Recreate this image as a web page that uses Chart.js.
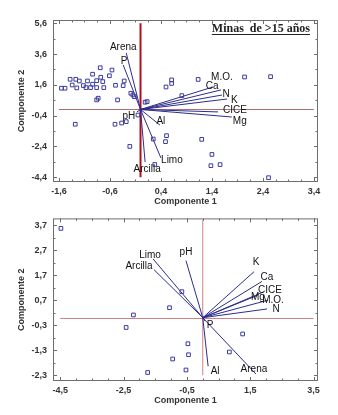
<!DOCTYPE html>
<html>
<head>
<meta charset="utf-8">
<script src="https://cdn.jsdelivr.net/npm/chart.js@4.4.1/dist/chart.umd.min.js"></script>
<style>
  body { margin: 0; background: #fff; width: 338px; height: 415px; position: relative; overflow: hidden; }
  canvas { position: absolute; left: 0; }
  #c15 { top: 0; }
  #c30 { top: 207px; }
</style>
</head>
<body>
<canvas id="c15" width="338" height="207"></canvas>
<canvas id="c30" width="338" height="208"></canvas>
<script>
// --- Minas de >15 años ---
const obs15X = [-1.55, -1.48, -1.38, -1.27, -1.34, -1.25, -1.20, -1.12, -1.04, -1.07, -0.98, -0.94, -0.94, -0.86,
  -0.79, -0.78, -0.74, -0.72, -0.86, -0.61, -0.56, -0.49, -0.34, -0.32, -0.86, -0.83, -0.45, -0.19, -0.15, -0.12,
  0.09, 0.13, 0.50, 0.61, 0.61, 0.81, 1.13, 2.04, 2.55,
  -1.28, -0.50, -0.37, -0.28, -0.21, -0.05, 0.25, 0.51, 0.49, 0.28, 1.20, 1.40, 1.38, 1.56, 2.51];
const obs15Y = [1.38, 1.38, 1.96, 1.96, 1.59, 1.40, 1.85, 1.55, 1.85, 1.42, 1.42, 2.29, 1.64, 1.87,
  2.71, 2.09, 1.81, 1.42, 1.42, 2.19, 2.56, 1.57, 1.55, 1.85, 0.62, 0.73, 0.62, 1.05, 0.94, 0.83,
  0.47, 0.51, 1.46, 1.92, 1.69, 0.90, 1.95, 2.11, 2.13,
  -0.96, -0.96, -0.88, -0.79, -2.40, -0.36, -1.92, -1.70, -2.09, -3.57, -1.94, -2.92, -3.65, -3.58, -4.43];
const vars15 = ['Arena', 'P', 'M.O.', 'Ca', 'N', 'K', 'CICE', 'Mg', 'Al', 'pH', 'Limo', 'Arcilla'];
const vec15X = [-0.28, -0.34, 1.42, 1.58, 1.60, 1.70, 1.52, 1.79, 0.38, -0.07, 0.40, 0.09];
const vec15Y = [3.67, 2.89, 1.46, 1.27, 0.94, 0.68, -0.16, -0.49, -1.01, -0.16, -3.15, -3.41];
const ticks15X = [-1.6, -0.6, 0.4, 1.4, 2.4, 3.4];
const ticks15Y = [-4.4, -2.4, -0.4, 1.6, 3.6, 5.6];

// --- Minas de >30 años ---
const obs30X = [-4.48, -0.66, -1.05, -2.19, -2.42, -0.47, -0.45, -0.95, -1.74, -0.53, 1.26, 0.84];
const obs30Y = [3.57, 1.04, 0.40, 0.11, -0.39, -1.04, -1.48, -1.65, -2.19, -2.09, -0.65, -1.37];
const vars30 = ['Limo', 'Arcilla', 'pH', 'K', 'Ca', 'Mg', 'CICE', 'M.O.', 'N', 'P', 'Al', 'Arena'];
const vec30X = [-1.57, -1.54, -0.53, 1.62, 1.87, 1.74, 1.90, 2.06, 2.03, 0.07, 0.17, 1.68];
const vec30Y = [2.35, 1.92, 2.28, 1.84, 1.45, 0.90, 1.02, 0.70, 0.35, -0.13, -1.94, -2.25];
const ticks30X = [-4.5, -2.5, -0.5, 1.5, 3.5];
const ticks30Y = [-2.3, -1.3, -0.3, 0.7, 1.7, 2.7, 3.7];

// desplazamiento de las etiquetas en pixeles respecto al extremo del vector
const offsets15 = {
  'Arena': [-3, -6], 'P': [1, -4], 'M.O.': [9, -10], 'Ca': [-9, -4], 'N': [4, -1], 'K': [7, 1],
  'CICE': [17, -2], 'Mg': [8, 4], 'Al': [1, -4], 'pH': [-8, 4], 'Limo': [11, 2], 'Arcilla': [2, 7]
};
const offsets30 = {
  'Limo': [-3, -4], 'Arcilla': [-15, -3], 'pH': [0, -8], 'K': [2, -9], 'Ca': [5, -4], 'Mg': [0, 2],
  'CICE': [7, -2], 'M.O.': [5, 0], 'N': [9, 0], 'P': [5, 4], 'Al': [7, 5], 'Arena': [-2, -5]
};

const fmt = v => v.toFixed(1).replace('.', ',');
const axisFont = { family: '"Liberation Sans", Arial, sans-serif', size: 9, weight: 'bold' };

const decor = {
  id: 'decor',
  beforeDatasetsDraw(chart, args, o) {
    const { ctx, scales: { x, y } } = chart;
    ctx.save();
    ctx.strokeStyle = o.hColor;
    ctx.lineWidth = o.hWidth;
    ctx.beginPath();
    ctx.moveTo(x.getPixelForValue(o.hRange[0]), Math.round(y.getPixelForValue(0)) + 0.5);
    ctx.lineTo(x.getPixelForValue(o.hRange[1]), Math.round(y.getPixelForValue(0)) + 0.5);
    ctx.stroke();
    ctx.strokeStyle = o.vColor;
    ctx.lineWidth = o.vWidth;
    ctx.beginPath();
    ctx.moveTo(x.getPixelForValue(0), y.getPixelForValue(o.vRange[0]));
    ctx.lineTo(x.getPixelForValue(0), y.getPixelForValue(o.vRange[1]));
    ctx.stroke();
    ctx.restore();
  },
  afterDatasetsDraw(chart, args, o) {
    const { ctx, chartArea: ca, scales: { x, y } } = chart;
    ctx.save();
    // marco
    ctx.strokeStyle = '#6e6e6e';
    ctx.lineWidth = 1;
    ctx.strokeRect(ca.left + 0.5, ca.top + 0.5, ca.right - ca.left - 1, ca.bottom - ca.top - 1);
    // marcas hacia dentro en los cuatro lados
    const marks = (scale, major, minor) => {
      const out = major.map(v => [v, 4]);
      let v = major[0];
      while (v - minor >= scale.min) v -= minor;
      for (; v <= scale.max + 1e-9; v += minor) {
        if (!major.some(m => Math.abs(m - v) < 1e-6)) out.push([v, 2.5]);
      }
      return out;
    };
    ctx.beginPath();
    marks(x, o.ticksX, o.minorX).forEach(([v, len]) => {
      const px = Math.round(x.getPixelForValue(v)) + 0.5;
      ctx.moveTo(px, ca.bottom); ctx.lineTo(px, ca.bottom - len);
      ctx.moveTo(px, ca.top); ctx.lineTo(px, ca.top + len);
    });
    marks(y, o.ticksY, o.minorY).forEach(([v, len]) => {
      const py = Math.round(y.getPixelForValue(v)) + 0.5;
      ctx.moveTo(ca.left, py); ctx.lineTo(ca.left + len, py);
      ctx.moveTo(ca.right, py); ctx.lineTo(ca.right - len, py);
    });
    ctx.stroke();
    // nombres de las variables
    ctx.fillStyle = '#111';
    ctx.font = '10px "Liberation Sans", Arial, sans-serif';
    ctx.textAlign = 'center';
    ctx.textBaseline = 'middle';
    o.names.forEach((n, i) => {
      const off = o.offsets[n] || [0, 0];
      ctx.fillText(n, x.getPixelForValue(o.vx[i]) + off[0], y.getPixelForValue(o.vy[i]) + off[1]);
    });
    // recuadro del titulo
    ctx.fillStyle = '#222';
    ctx.font = 'bold 12px "Liberation Serif", "Times New Roman", serif';
    ctx.textAlign = 'right';
    ctx.textBaseline = 'alphabetic';
    ctx.fillText(o.title, o.titleAt[0], o.titleAt[1]);
    const w = ctx.measureText(o.title).width;
    ctx.strokeStyle = '#222';
    ctx.beginPath();
    ctx.moveTo(o.titleAt[0] - w, o.titleAt[1] + 2.5);
    ctx.lineTo(o.titleAt[0], o.titleAt[1] + 2.5);
    ctx.stroke();
    ctx.restore();
  }
};

function biplot(id, c) {
  const points = c.obsX.map((v, i) => ({ x: v, y: c.obsY[i] }));
  const vectors = c.names.map((n, i) => ({
    type: 'line',
    label: n,
    data: [{ x: 0, y: 0 }, { x: c.vx[i], y: c.vy[i] }],
    borderColor: '#2c2c8e',
    borderWidth: 1,
    pointRadius: 0,
    fill: false
  }));
  return new Chart(document.getElementById(id), {
    type: 'scatter',
    data: {
      datasets: [{
        label: 'obs',
        data: points,
        pointStyle: 'rect',
        pointRadius: 2.6,
        borderWidth: 1,
        borderColor: '#3b3b9e',
        backgroundColor: 'rgba(255,255,255,0)'
      }].concat(vectors)
    },
    options: {
      responsive: false,
      animation: false,
      layout: { padding: c.padding },
      plugins: {
        legend: { display: false },
        tooltip: { enabled: false },
        decor: {
          names: c.names, vx: c.vx, vy: c.vy, offsets: c.offsets,
          ticksX: c.ticksX, ticksY: c.ticksY, minorX: c.minorX, minorY: c.minorY,
          hRange: c.hRange, vRange: c.vRange,
          hColor: c.hColor, hWidth: 1, vColor: c.vColor, vWidth: c.vWidth,
          title: c.title, titleAt: c.titleAt
        }
      },
      scales: {
        x: {
          type: 'linear', min: c.xMin, max: c.xMax,
          afterBuildTicks: s => { s.ticks = c.ticksX.map(v => ({ value: v })); },
          afterFit: s => { s.height = c.xAxisH; },
          grid: { display: false, drawTicks: false },
          border: { display: false },
          ticks: { callback: fmt, font: axisFont, color: '#333', padding: 4, maxRotation: 0, autoSkip: false },
          title: { display: true, text: 'Componente 1', font: axisFont, color: '#333', padding: { top: 0, bottom: c.titlePadBottom } }
        },
        y: {
          type: 'linear', min: c.yMin, max: c.yMax,
          afterBuildTicks: s => { s.ticks = c.ticksY.map(v => ({ value: v })); },
          afterFit: s => { s.width = 53; },
          grid: { display: false, drawTicks: false },
          border: { display: false },
          ticks: { callback: fmt, font: axisFont, color: '#333', padding: 6, autoSkip: false },
          title: { display: true, text: 'Componente 2', font: axisFont, color: '#333', padding: { top: 16, bottom: 0 } }
        }
      }
    },
    plugins: [decor]
  });
}

biplot('c15', {
  obsX: obs15X, obsY: obs15Y, names: vars15, vx: vec15X, vy: vec15Y, offsets: offsets15,
  ticksX: ticks15X, ticksY: ticks15Y, minorX: 0.25, minorY: 1,
  xMin: -1.716, xMax: 3.48, yMin: -4.71, yMax: 5.81,
  hRange: [-1.6, 3.4], vRange: [-4.4, 5.6],
  hColor: '#a87070', vColor: '#b0101e', vWidth: 2,
  padding: { top: 20, right: 20, bottom: 0, left: 0 }, xAxisH: 25, titlePadBottom: 0,
  title: 'Minas  de >15 años', titleAt: [310, 32]
});

biplot('c30', {
  obsX: obs30X, obsY: obs30Y, names: vars30, vx: vec30X, vy: vec30Y, offsets: offsets30,
  ticksX: ticks30X, ticksY: ticks30Y, minorX: 0.5, minorY: 0.5,
  xMin: -4.73, xMax: 3.64, yMin: -2.53, yMax: 3.97,
  hRange: [-4.5, 3.5], vRange: [-2.3, 3.9],
  hColor: '#d08080', vColor: '#d08080', vWidth: 1,
  padding: { top: 9, right: 20, bottom: 0, left: 0 }, xAxisH: 34, titlePadBottom: 9.5,
  title: 'Minas  de >30 años', titleAt: [316, 224]
});
</script>
</body>
</html>
